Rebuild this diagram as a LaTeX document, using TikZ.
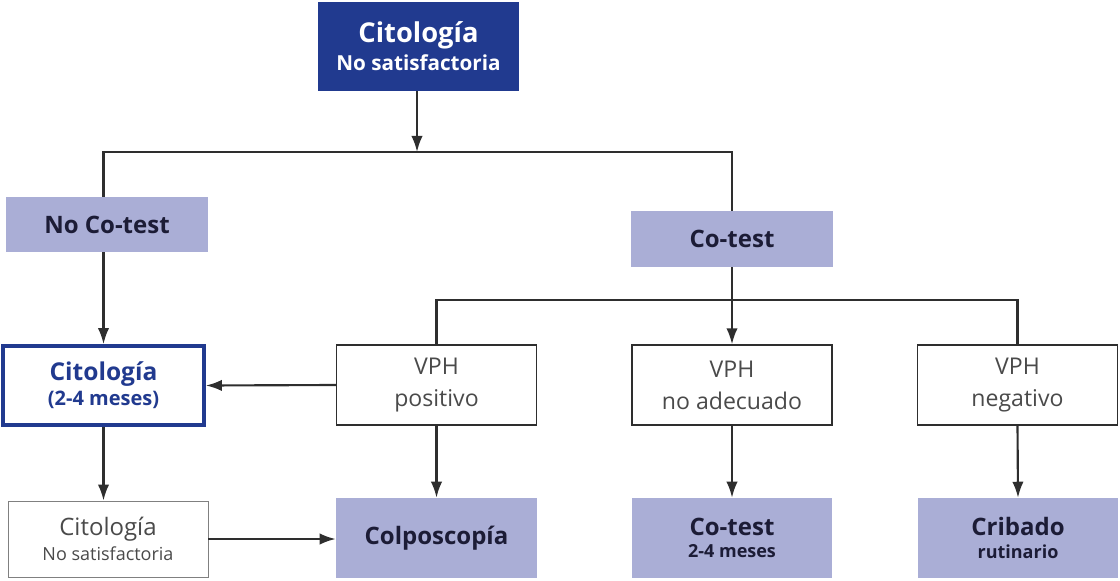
\documentclass[tikz,border=0pt]{standalone}
\usepackage{fontspec}
\setmainfont{Open Sans}
\usetikzlibrary{arrows.meta}
\definecolor{navy}{HTML}{213A8F}
\definecolor{lav}{HTML}{AAAED6}
\definecolor{ink}{HTML}{1C1C36}
\definecolor{wire}{HTML}{2E2E2E}
\definecolor{greytext}{HTML}{4A4A4A}
\newcommand{\subline}[1]{{\fontsize{13.5}{17}\selectfont #1}}
\begin{document}
\begin{tikzpicture}[x=0.75pt,y=-0.75pt,
  box/.style={rectangle,inner sep=0pt,align=center,minimum width=#1*0.75pt},
  darkbox/.style={box=201,minimum height=89*0.75pt,fill=navy,text=white,font=\bfseries\fontsize{20.5}{22}\selectfont},
  lavbox/.style={box=#1,fill=lav,text=ink,font=\bfseries\fontsize{18}{20}\selectfont},
  plainbox/.style={box=200,minimum height=80*0.75pt,draw=wire,line width=1pt,fill=white,text=greytext,font=\fontsize{17.3}{24}\selectfont},
  wireline/.style={draw=wire,line width=1.6pt},
  arr/.style={wireline,-{Latex[length=12pt,width=8.5pt]}}]
\useasboundingbox (0,0) rectangle (1120,581);

% top
\node[darkbox] (top) at (418.5,46.5) {Citología\\[-1pt]{\fontsize{15.5}{18}\selectfont No satisfactoria}};

% second level
\node[lavbox=202,minimum height=55*0.75pt] (nocotest) at (107,224.5) {No Co-test};
\node[lavbox=202,minimum height=56*0.75pt] (cotest) at (732,239) {Co-test};

% third level
\node[box=201,minimum height=79*0.75pt,draw=navy,line width=2.8pt,fill=white,text=navy,font=\bfseries\fontsize{18.4}{21}\selectfont] (cito24) at (103.5,385.5)
  {Citología\\[-2pt]{\fontsize{15}{18}\selectfont (2-4 meses)}};
\node[plainbox] (vphpos) at (436.5,385) {VPH\\positivo};
\node[plainbox] (vphno) at (732,385) {VPH\\no adecuado};
\node[plainbox] (vphneg) at (1017.5,385) {VPH\\negativo};

% bottom level
\node[plainbox,minimum height=76*0.75pt,line width=0.6pt,draw=gray,text=greytext,font=\fontsize{18}{22}\selectfont] (citons) at (108,539)
  {Citología\\[-3pt]\subline{No satisfactoria}};
\node[lavbox=201,minimum height=80*0.75pt] (colpo) at (436.5,538) {Colposcopía};
\node[lavbox=200,minimum height=80*0.75pt] (cotest24) at (732,538) {Co-test\\[-3pt]\subline{2-4 meses}};
\node[lavbox=200,minimum height=80*0.75pt] (cribado) at (1018,538) {Cribado\\[-3pt]\subline{rutinario}};

% junctions
\coordinate (j1) at (417,152);
\coordinate (j2) at (732,300);

% connectors
\draw[arr] (top.south -| j1) -- (j1);
\draw[wireline] (nocotest.north -| cito24.north) |- (j1) -| (cotest.north);
\draw[arr] (nocotest.south -| cito24.north) -- (cito24.north);
\draw[wireline] (cotest.south) -- (j2);
\draw[wireline] (vphpos.north) |- (j2) -| (vphneg.north);
\draw[arr] (j2) -- (vphno.north);
\draw[arr] (vphpos.west) -- (cito24.east);
\draw[arr] (cito24.south) -- (citons.north -| cito24.south);
\draw[arr] (citons.east) -- (colpo.west |- citons.east);
\draw[arr] (vphpos.south) -- (colpo.north);
\draw[arr] (vphno.south) -- (cotest24.north);
\draw[arr] (vphneg.south) -- (cribado.north);
\end{tikzpicture}
\end{document}
